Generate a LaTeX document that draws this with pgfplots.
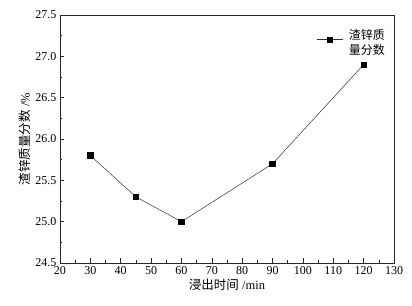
\documentclass[border=0pt]{standalone}
\usepackage{fontspec}
\setmainfont{Liberation Serif}
\newfontfamily\cjk{Noto Sans CJK SC}
\usepackage{pgfplots}
\pgfplotsset{compat=1.18}
\begin{document}
\begin{tikzpicture}
\begin{axis}[
  scale only axis,
  width=334pt, height=248pt,
  xmin=20, xmax=130, ymin=24.5, ymax=27.5,
  xtick={20,30,...,130},
  ytick={24.5,25,...,27.5},
  minor x tick num=1, minor y tick num=1,
  tick align=inside, tick pos=left,
  major tick length=4.5pt, minor tick length=2.5pt,
  axis line style={line width=0.8pt, draw=black!85},
  every tick/.style={black!85, line width=0.6pt},
  x tick label style={/pgf/number format/.cd, fixed, assume math mode=true},
  y tick label style={/pgf/number format/.cd, fixed, fixed zerofill, precision=1, assume math mode=true},
  ticklabel style={font=\fontsize{12}{14}\selectfont},
  xlabel={{\cjk 浸出时间} /min},
  ylabel={{\cjk 渣锌质量分数} /\%},
  label style={font=\fontsize{12.5}{14}\selectfont},
  xlabel style={yshift=2pt},
  ylabel style={yshift=-2pt},
  legend style={draw=none, fill=none, at={(1.0,0.96)}, anchor=north east,
    nodes={align=left, inner xsep=6pt, font=\cjk\fontsize{12}{15}\selectfont}},
  legend image code/.code={\draw[mark repeat=2,mark phase=2] plot coordinates {(0cm,0.1cm) (0.45cm,0.1cm) (0.9cm,0.1cm)};},
]
\addplot[black!80, line width=0.5pt, mark=square*, mark size=2.8pt, mark options={fill=black, draw=black}]
  coordinates {(30,25.8) (45,25.3) (60,25.0) (90,25.7) (120,26.9)};
\addlegendentry{{\cjk 渣锌质}\\{\cjk 量分数}}
\end{axis}
\path (current axis.south west) ++(-60pt,-42pt);
\path (current axis.north east) ++(18pt,15pt);
\end{tikzpicture}
\end{document}
